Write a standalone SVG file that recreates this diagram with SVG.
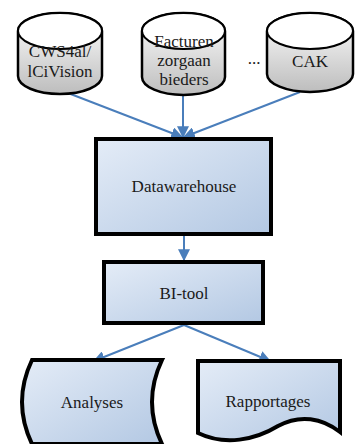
<svg xmlns="http://www.w3.org/2000/svg" width="359" height="444" viewBox="0 0 359 444">
<defs>
<linearGradient id="blue" x1="0" y1="0" x2="1" y2="1">
<stop offset="0" stop-color="#e4ecf7"/>
<stop offset="1" stop-color="#b3c8e3"/>
</linearGradient>
<linearGradient id="gray" x1="0" y1="0" x2="0" y2="1">
<stop offset="0" stop-color="#ffffff"/>
<stop offset="1" stop-color="#bdbdbd"/>
</linearGradient>
<marker id="ah" viewBox="0 0 10 10" refX="9" refY="5" markerWidth="6" markerHeight="6" orient="auto" markerUnits="strokeWidth">
<path d="M0,0 L10,5 L0,10 z" fill="#4a7ebb"/>
</marker>
<style>
.t{font-family:"Liberation Serif","DejaVu Serif",serif;font-size:17px;fill:#1a1a1a;text-anchor:middle}
.cyl{fill:url(#gray);stroke:#000;stroke-width:2.5}
.top{fill:#fff;stroke:#000;stroke-width:2}
.box{fill:url(#blue);stroke:#000;stroke-width:4}
.c{stroke:#4a7ebb;stroke-width:2;fill:none;marker-end:url(#ah)}
</style>
</defs>
<g id="connectors">
<line class="c" x1="68" y1="93" x2="182" y2="137"/>
<line class="c" x1="183" y1="96" x2="183" y2="137"/>
<line class="c" x1="300" y1="92" x2="184" y2="137"/>
<line class="c" x1="184" y1="235" x2="184" y2="260"/>
<line class="c" x1="184" y1="325" x2="94" y2="361"/>
<line class="c" x1="184" y1="325" x2="270" y2="361"/>
</g>
<g id="cws">
<path class="cyl" d="M18,31 A42,18 0 0 1 102,31 L102,76 A42,18 0 0 1 18,76 Z"/>
<path class="top" d="M18,31 A42,18 0 0 1 102,31 A42,18 0 0 1 18,31 Z"/>
<text class="t" x="60" y="57">CWS4al/</text>
<text class="t" x="60" y="77">lCiVision</text>
</g>
<g id="facturen">
<path class="cyl" d="M142,31 A41.5,18 0 0 1 225,31 L225,77 A41.5,18 0 0 1 142,77 Z"/>
<path class="top" d="M142,31 A41.5,18 0 0 1 225,31 A41.5,18 0 0 1 142,31 Z"/>
<text class="t" x="184" y="47">Facturen</text>
<text class="t" x="184" y="66">zorgaan</text>
<text class="t" x="184" y="85">bieders</text>
</g>
<g id="dots">
<text class="t" x="254" y="64">...</text>
</g>
<g id="cak">
<path class="cyl" d="M267,31 A43,18 0 0 1 353,31 L353,74 A43,18 0 0 1 267,74 Z"/>
<path class="top" d="M267,31 A43,18 0 0 1 353,31 A43,18 0 0 1 267,31 Z"/>
<text class="t" x="310" y="67">CAK</text>
</g>
<g id="dw">
<rect class="box" x="96" y="139" width="175" height="95"/>
<text class="t" x="184" y="192">Datawarehouse</text>
</g>
<g id="bi">
<rect class="box" x="104" y="262" width="159" height="61"/>
<text class="t" x="184" y="299">BI-tool</text>
</g>
<g id="analyses">
<path class="box" d="M32,360 L162,360 Q142,402 162,444 L32,444 Q12,402 32,360 Z"/>
<text class="t" x="92" y="408">Analyses</text>
</g>
<g id="rapportages">
<path class="box" d="M198,361 L340,361 L340,432 C322,418 300,414 278,426 C255,440 225,446 198,433 Z"/>
<text class="t" x="268" y="407">Rapportages</text>
</g>
</svg>
